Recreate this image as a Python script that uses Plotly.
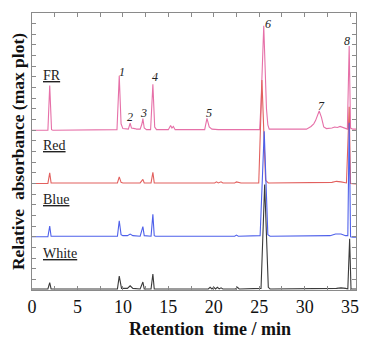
import plotly.graph_objects as go

# Retention time (min) and relative absorbance
fr_t = [0, 1.75, 1.95, 2.15, 2.3, 9.35, 9.6, 9.8, 10.0, 10.6, 10.8, 10.95, 11.3, 11.5, 11.9, 12.1, 12.2, 12.35, 12.6,
        13.05, 13.3, 13.5, 13.7, 15.0, 15.25, 15.4, 15.55, 15.75, 19.0, 19.25, 19.5, 19.8, 20.5, 25.05, 25.2, 25.5,
        25.8, 25.95, 26.1, 30.2, 30.7, 31.0, 31.2, 31.6, 31.85, 32.1, 32.4, 33.0, 33.3, 33.6, 33.9, 34.3, 34.7,
        34.9, 35.05, 35.3, 35.65]
fr_a = [0, 0, 4.2, 0.05, 0, 0.05, 5.1, 0.6, 0.15, 0.1, 0.65, 0.2, 0.15, 0.1, 0.1, 0.6, 1.1, 0.2, 0.05,
        0.05, 4.3, 0.3, 0.05, 0.05, 0.45, 0.2, 0.35, 0.05, 0.05, 1.1, 0.3, 0.1, 0.05, 0.05, 2.5, 9.8,
        2.0, 0.5, 0.1, 0.1, 0.35, 0.6, 0.9, 1.8, 1.2, 0.3, 0.15, 0.2, 0.3, 0.25, 0.35, 0.2, 0.1,
        7.9, 0.2, 0.1, 0.1]

red_t = [0, 1.75, 1.95, 2.1, 9.4, 9.6, 9.8, 10.0, 11.9, 12.05, 12.2, 12.35, 13.1, 13.3, 13.45, 20.1, 20.3, 20.5,
         20.8, 21.0, 22.3, 22.5, 22.8, 23.0, 24.95, 25.3, 25.7, 26.0, 33.0, 33.5, 34.0, 34.6, 34.9, 35.05, 35.65]
red_a = [0, 0, 1.0, 0.05, 0.05, 0.62, 0.1, 0.05, 0.05, 0.2, 0.38, 0.05, 0.05, 1.05, 0.05, 0.05, 0.15, 0.05,
         0.15, 0.05, 0.05, 0.15, 0.1, 0.05, 0.05, 9.7, 0.3, 0.05, 0.1, 0.2, 0.15, 0.05, 7.2, 0.0, -0.05]

blue_t = [0, 1.75, 1.95, 2.1, 9.4, 9.6, 9.8, 10.0, 10.5, 10.8, 11.1, 11.9, 12.2, 12.35, 13.1, 13.3, 13.45, 13.6,
          22.3, 22.5, 22.7, 25.1, 25.55, 25.95, 26.2, 32.8, 33.4, 34.0, 34.5, 34.75, 34.9, 35.05, 35.3, 35.65]
blue_a = [0, 0, 1.0, 0.05, 0.05, 1.5, 0.2, 0.1, 0.1, 0.25, 0.1, 0.05, 0.95, 0.1, 0.05, 2.1, 0.1, 0.05,
          0.05, 0.15, 0.05, 0.1, 9.9, 0.2, 0.05, 0.1, 0.25, 0.25, 0.1, 0.1, 10.7, 0.0, -0.05, -0.05]

white_t = [0, 1.75, 1.95, 2.1, 9.4, 9.6, 9.85, 10.5, 10.8, 11.1, 11.9, 12.2, 12.35, 13.1, 13.3, 13.45, 19.4, 19.6,
           19.8, 20.0, 20.2, 20.4, 20.6, 20.8, 21.0, 22.4, 22.6, 22.8, 25.2, 25.6, 26.0, 26.2, 33.5, 34.0, 34.5,
           34.75, 34.95, 35.1, 35.65]
white_a = [0, 0, 0.6, 0, 0, 1.2, 0.05, 0.05, 0.3, 0.05, 0, 0.65, 0, 0, 1.4, 0, 0, 0.15,
           0, 0.15, 0, 0.15, 0, 0.1, 0, 0, 0.15, 0, 0.05, 9.8, 0.15, 0, 0.05, 0.1, 0.05,
           0, 4.7, 0, 0]

series_names = ["FR", "Red", "Blue", "White"]
series_t = [fr_t, red_t, blue_t, white_t]
series_a = [fr_a, red_a, blue_a, white_a]
offsets = [15, 10, 5, 0.1]
colors = ["#e670a8", "#e2605e", "#4e60ea", "#3a3a3a"]
label_y = [20.1, 13.6, 8.5, 3.4]

peak_labels = ["1", "2", "3", "4", "5", "6", "7", "8"]
peak_label_t = [9.9, 10.8, 12.3, 13.5, 19.5, 26.0, 31.9, 34.7]
peak_label_y = [20.5, 16.2, 16.6, 20.0, 16.6, 25.0, 17.3, 23.4]

x_ticks = [0, 5, 10, 15, 20, 25, 30, 35]

serif = "Liberation Serif, Times New Roman, serif"

fig = go.Figure()
for name, t, a, off, c in zip(series_names, series_t, series_a, offsets, colors):
    fig.add_trace(go.Scatter(x=t, y=[v + off for v in a], mode="lines",
                             line=dict(color=c, width=1.1), name=name, showlegend=False))

for name, ly in zip(series_names, label_y):
    fig.add_annotation(x=1.0, y=ly, xref="x", yref="y", text="<u>" + name + "</u>",
                       showarrow=False, xanchor="left", yanchor="middle",
                       font=dict(family=serif, size=14, color="#222"))

for lab, lt, ly in zip(peak_labels, peak_label_t, peak_label_y):
    fig.add_annotation(x=lt, y=ly, xref="x", yref="y", text="<i>" + lab + "</i>",
                       showarrow=False, xanchor="center", yanchor="middle",
                       font=dict(family=serif, size=12, color="#222"))

fig.add_annotation(x=0.549, y=-0.141, xref="paper", yref="paper", yanchor="middle",
                   text="<b>Retention  time / min</b>", showarrow=False,
                   font=dict(family=serif, size=18, color="#111"))

fig.update_layout(
    width=362, height=331,
    margin=dict(l=24, r=14, t=5, b=49),
    paper_bgcolor="white", plot_bgcolor="white",
    xaxis=dict(range=[0, 35.65], tickvals=x_ticks, ticks="inside", ticklen=4,
               showline=True, linecolor="#8a8a8a", linewidth=1, mirror="ticks",
               showgrid=False, zeroline=False, tickcolor="#8a8a8a",
               minor=dict(dtick=2.5, tick0=0, ticks="inside", ticklen=4, tickcolor="#8a8a8a"),
               tickfont=dict(family=serif, size=18, color="#111")),
    yaxis=dict(range=[0, 26], dtick=1, tick0=0, ticks="inside", ticklen=4, showticklabels=False,
               showline=True, linecolor="#8a8a8a", linewidth=1, mirror="ticks",
               showgrid=False, zeroline=False, tickcolor="#8a8a8a",
               title=dict(text="<b>Relative  absorbance (max plot)</b>", standoff=3,
                          font=dict(family=serif, size=17.5, color="#111"))),
)

fig.write_html("out.html")
